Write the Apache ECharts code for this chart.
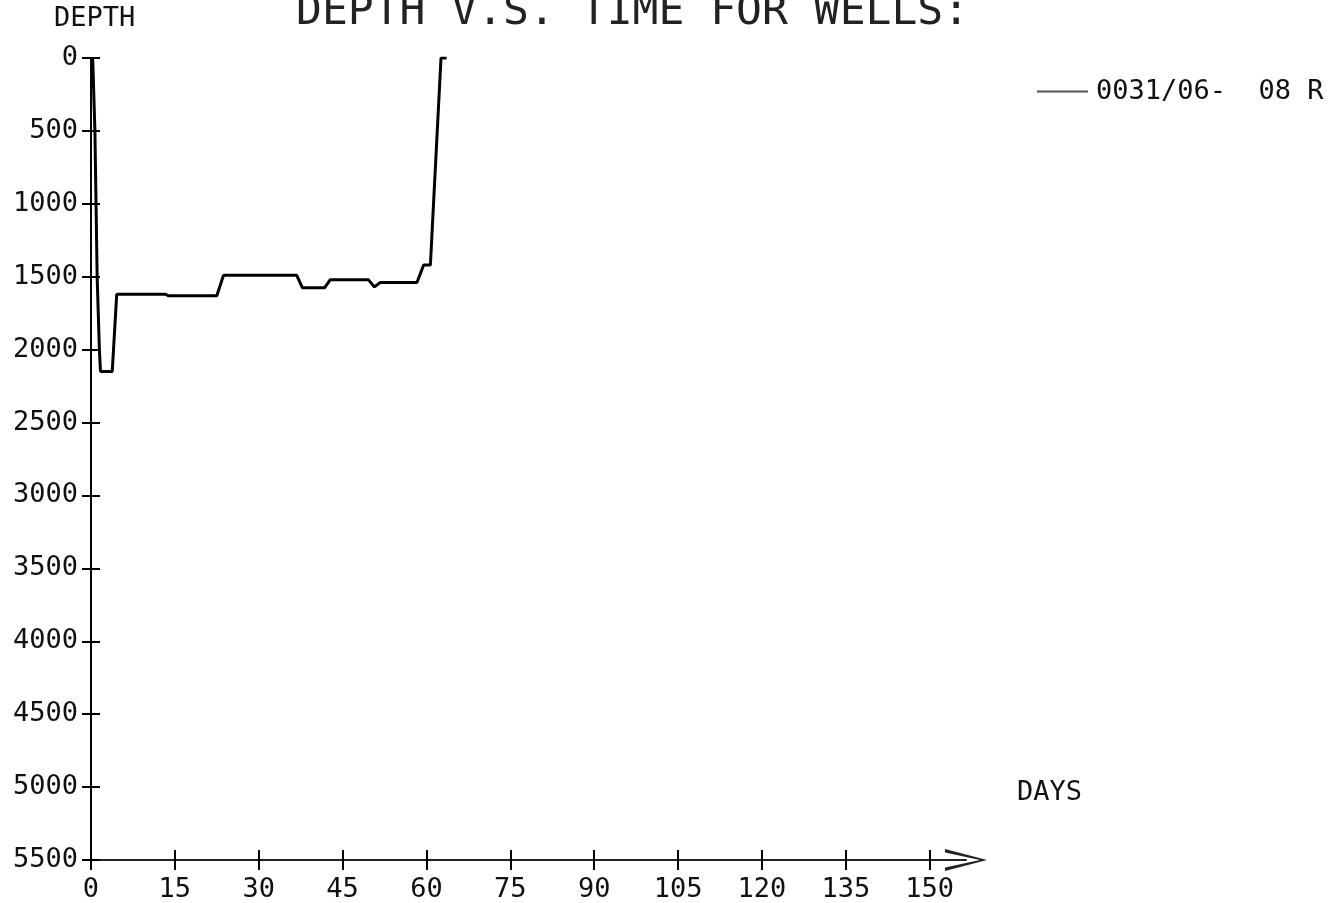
<!DOCTYPE html>
<html>
<head>
<meta charset="utf-8">
<script src="https://cdn.jsdelivr.net/npm/echarts@6/dist/echarts.min.js"></script>
<style>
html,body{margin:0;padding:0;background:#fff;}
#chart{width:1337px;height:903px;}
</style>
</head>
<body>
<div id="chart"></div>
<script>
// ---- data ----
const seriesName = '0031/06-  08 R';
const days   = [0.3, 0.7, 1.1, 1.5, 1.7, 3.8, 4.6, 13.3, 13.8, 22.5, 23.7, 36.8, 37.8, 41.8, 42.8, 49.6, 50.7, 51.7, 58.3, 59.5, 60.7, 62.6, 63.6];
const depths = [0,   500, 1500, 2000, 2150, 2150, 1620, 1620, 1630, 1630, 1490, 1490, 1575, 1575, 1520, 1520, 1570, 1540, 1540, 1420, 1420, 0, 0];
const xTicks = [0, 15, 30, 45, 60, 75, 90, 105, 120, 135, 150];
const yTicks = [0, 500, 1000, 1500, 2000, 2500, 3000, 3500, 4000, 4500, 5000, 5500];
const titleText = 'DEPTH V.S. TIME FOR WELLS:';
const yName = 'DEPTH';
const xName = 'DAYS';

const FONT = "'DejaVu Sans Mono', 'Liberation Mono', monospace";
const points = days.map((d, i) => [d, depths[i]]);

const chart = echarts.init(document.getElementById('chart'), null, {renderer: 'canvas'});
const xMax = 156.5;
const chevron = 'path://M11,0 L22,42 L18.5,42 L11,7 L3.5,42 L0,42 Z';
const plain = v => String(v);

chart.setOption({
  animation: false,
  backgroundColor: '#fff',
  title: [
    {text: titleText, left: 296, top: -9, padding: 0,
     textStyle: {fontFamily: FONT, fontSize: 43, fontWeight: 'normal', color: '#222'}},
    {text: yName, left: 54, top: 5, padding: 0,
     textStyle: {fontFamily: FONT, fontSize: 27, fontWeight: 'normal', color: '#111'}},
    {text: xName, left: 1017, top: 779, padding: 0,
     textStyle: {fontFamily: FONT, fontSize: 27, fontWeight: 'normal', color: '#111'}}
  ],
  legend: {
    left: 1037, top: 78, padding: 0,
    icon: 'rect', itemWidth: 51, itemHeight: 2,
    itemStyle: {color: '#555'},
    textStyle: {fontFamily: FONT, fontSize: 27, color: '#111', padding: [0, 0, 0, 3]},
    data: [seriesName]
  },
  grid: {left: 91, right: 371, top: 58, bottom: 42, containLabel: false},
  xAxis: [
    {
      type: 'value', min: 0, max: xMax, interval: 15, position: 'bottom',
      axisLine: {show: true, onZero: false, symbol: ['none', chevron], symbolSize: [22, 42],
                 lineStyle: {color: '#222', width: 2}},
      axisTick: {show: true, length: 10, customValues: xTicks, lineStyle: {color: '#000', width: 2}},
      axisLabel: {show: true, margin: 16, customValues: xTicks, formatter: plain,
                  fontFamily: FONT, fontSize: 27, color: '#111'},
      splitLine: {show: false}
    },
    {
      type: 'value', min: 0, max: xMax, interval: 15, position: 'bottom',
      axisLine: {show: false, onZero: false},
      axisTick: {show: true, inside: true, length: 10, customValues: xTicks, lineStyle: {color: '#000', width: 2}},
      axisLabel: {show: false},
      splitLine: {show: false}
    }
  ],
  yAxis: [
    {
      type: 'value', inverse: true, min: 0, max: 5500, interval: 500, position: 'left',
      axisLine: {show: true, onZero: false, lineStyle: {color: '#000', width: 2}},
      axisTick: {show: true, length: 9, lineStyle: {color: '#000', width: 2}},
      axisLabel: {show: true, margin: 13, fontFamily: FONT, fontSize: 27, color: '#111',
                  customValues: yTicks, formatter: plain},
      splitLine: {show: false}
    },
    {
      type: 'value', inverse: true, min: 0, max: 5500, interval: 500, position: 'left',
      axisLine: {show: false, onZero: false},
      axisTick: {show: true, inside: true, length: 9, lineStyle: {color: '#000', width: 2}},
      axisLabel: {show: false},
      splitLine: {show: false}
    }
  ],
  series: [{
    name: seriesName,
    type: 'line',
    xAxisIndex: 0, yAxisIndex: 0,
    data: points,
    showSymbol: false, symbol: 'none',
    lineStyle: {color: '#000', width: 3},
    itemStyle: {color: '#000'}
  }]
});
</script>
</body>
</html>
